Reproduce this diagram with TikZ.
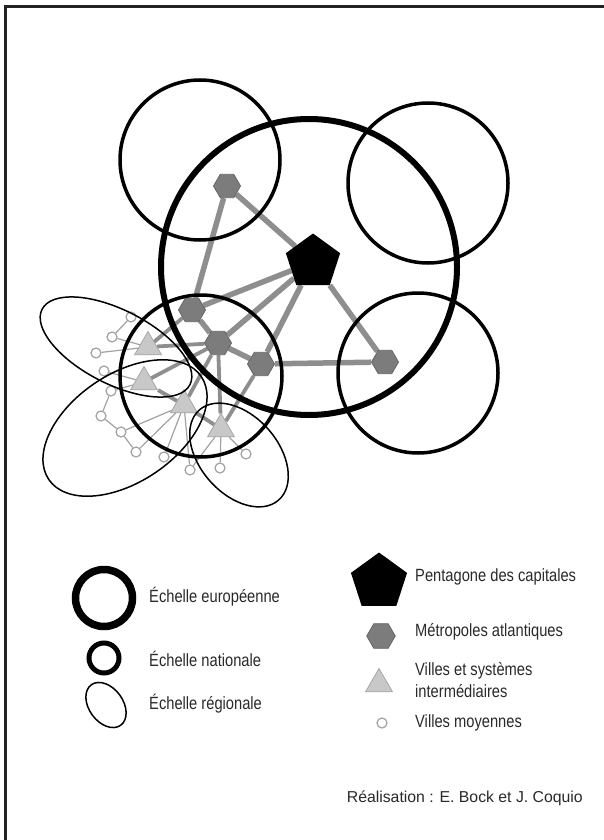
\documentclass[tikz,border=0pt]{standalone}
\usepackage{fontspec}
\setmainfont{Liberation Sans}
\newfontfamily\condfont[FakeStretch=0.83]{Liberation Sans}
\usetikzlibrary{shapes.geometric}
\pgfdeclarelayer{bg}
\pgfsetlayers{bg,main}
\definecolor{hexfill}{HTML}{7C7C7C}
\definecolor{hexline}{HTML}{666666}
\definecolor{trifill}{HTML}{C8C8C8}
\definecolor{triline}{HTML}{A6A6A6}
\definecolor{linkgray}{HTML}{8E8E8E}
\definecolor{thingray}{HTML}{A2A2A2}
\definecolor{framecol}{HTML}{222222}
\definecolor{txt}{HTML}{2A2A2A}
\begin{document}
\begin{tikzpicture}[x=1pt,y=-1pt,
  capital/.style={regular polygon, regular polygon sides=5, fill=black, draw=none, inner sep=0pt, minimum size=57pt},
  metro/.style={regular polygon, regular polygon sides=6, fill=hexfill, draw=hexline, line width=0.8pt, inner sep=0pt, minimum size=27pt},
  inter/.style={regular polygon, regular polygon sides=3, fill=trifill, draw=triline, line width=0.8pt, inner sep=0pt, minimum size=31pt},
  ville/.style={circle, draw=thingray, fill=white, line width=1.2pt, inner sep=0pt, minimum size=10pt},
  majorlink/.style={draw=linkgray, line width=5.5pt},
  minorlink/.style={draw=linkgray, line width=3.8pt},
  thinlink/.style={draw=thingray, line width=1.2pt},
  europe/.style={draw=black, line width=6pt},
  nation/.style={draw=black, line width=3.5pt},
  region/.style={draw=black, line width=1.5pt},
  framestyle/.style={draw=framecol, line width=3pt},
  lbl/.style={font=\condfont\fontsize{17.7}{22}\selectfont, text=txt, inner sep=0pt, anchor=west, align=left}
]
\useasboundingbox (0,0) rectangle (604,840);
\begin{pgfonlayer}{bg}
  \fill[white] (0,0) rectangle (604,840);
\end{pgfonlayer}
\draw[framestyle] (5,840) -- (5,7) -- (604,7);

% --- nodes
\node[capital] (P) at (313,262) {};
\node[metro] (H1) at (227,186) {};
\node[metro] (H2) at (192,310) {};
\node[metro] (H3) at (218,343) {};
\node[metro] (H4) at (261,364) {};
\node[metro] (H5) at (385,362) {};
\node[inter] (T1) at (148,347) {};
\node[inter] (T2) at (144,382) {};
\node[inter] (T3) at (184,405) {};
\node[inter] (T4) at (221,429) {};
\node[ville] (v1) at (131,317) {};
\node[ville] (v2) at (112,337) {};
\node[ville] (v3) at (96,353) {};
\node[ville] (v4) at (104,371) {};
\node[ville] (v5) at (111,391) {};
\node[ville] (v6) at (101,416) {};
\node[ville] (v7) at (121,432) {};
\node[ville] (v8) at (136,452) {};
\node[ville] (v9) at (164,457) {};
\node[ville] (v10) at (190,470) {};
\node[ville] (v11) at (220,468) {};
\node[ville] (v12) at (246,454) {};

% --- links
\begin{pgfonlayer}{bg}
  \draw[majorlink] (P) -- (H1);
  \draw[majorlink] (P) -- (H5);
  \draw[majorlink] (H1) -- (H2);
  \draw[majorlink] (P) -- (H2);
  \draw[majorlink] (P) -- (H3);
  \draw[majorlink] (P) -- (H4);
  \draw[majorlink] (H2) -- (H3);
  \draw[majorlink] (H3) -- (H4);
  \draw[majorlink] (H4) -- (H5);
  \draw[minorlink] (T1) -- (H3);
  \draw[minorlink] (T1) -- (H2);
  \draw[minorlink] (T2) -- (H3);
  \draw[minorlink] (T2) -- (T3);
  \draw[minorlink] (T3) -- (H3);
  \draw[minorlink] (T4) -- (H3);
  \draw[minorlink] (T4) -- (H4);
  \draw[minorlink] (T3) -- (T4);
  \draw[thinlink] (v1) -- (v2);
  \draw[thinlink] (T1) -- (v2);
  \draw[thinlink] (T1) -- (v3);
  \draw[thinlink] (T2) -- (v4);
  \draw[thinlink] (T2) -- (v5);
  \draw[thinlink] (v5) -- (v6);
  \draw[thinlink] (v6) -- (v7);
  \draw[thinlink] (v7) -- (v8);
  \draw[thinlink] (T3) -- (v7);
  \draw[thinlink] (T3) -- (v8);
  \draw[thinlink] (T3) -- (v9);
  \draw[thinlink] (T3) -- (v10);
  \draw[thinlink] (T4) -- (v10);
  \draw[thinlink] (T4) -- (v11);
  \draw[thinlink] (T4) -- (v12);
\end{pgfonlayer}

% --- scales
\draw[europe] (309,267) circle[radius=148pt];
\draw[nation] (200,160) circle[radius=80pt];
\draw[nation] (428,183) circle[radius=80pt];
\draw[nation] (418,373) circle[radius=80pt];
\draw[nation] (201,376) circle[radius=81pt];
\draw[region] (116,347) circle[x radius=83pt, y radius=37pt, rotate=-27];
\draw[region] (125,428) circle[x radius=92pt, y radius=54pt, rotate=34];
\draw[region] (239,455) circle[x radius=60pt, y radius=39pt, rotate=-48.6];

% --- legend
\draw[draw=black, line width=7.5pt] (104,598) circle[radius=28.5pt];
\draw[draw=black, line width=5pt] (104,658) circle[radius=15pt];
\draw[draw=black, line width=1.5pt] (106,705) circle[x radius=25pt, y radius=17pt, rotate=-54];
\node[lbl] (le) at (149,597) {Échelle européenne};
\node[lbl] (ln) at (149,659) {Échelle nationale};
\node[lbl] (lr) at (149,704) {Échelle régionale};

\node[capital, minimum size=59pt] (lP) at (379,582) {};
\node[metro, minimum size=28.5pt] (lH) at (381,636) {};
\node[inter] (lT) at (379,684) {};
\node[ville] (lv) at (382,723) {};
\node[lbl] (tP) at (415,577) {Pentagone des capitales};
\node[lbl] (tH) at (415,632) {Métropoles atlantiques};
\node[lbl] (tT) at (415,680) {Villes et systèmes\\intermédiaires};
\node[lbl] (tv) at (415,723) {Villes moyennes};

\node[font=\fontsize{15.8}{18}\selectfont, text=txt, inner sep=0pt, anchor=east] (credit) at (583,798) {Réalisation : E. Bock et J. Coquio};
\end{tikzpicture}
\end{document}
